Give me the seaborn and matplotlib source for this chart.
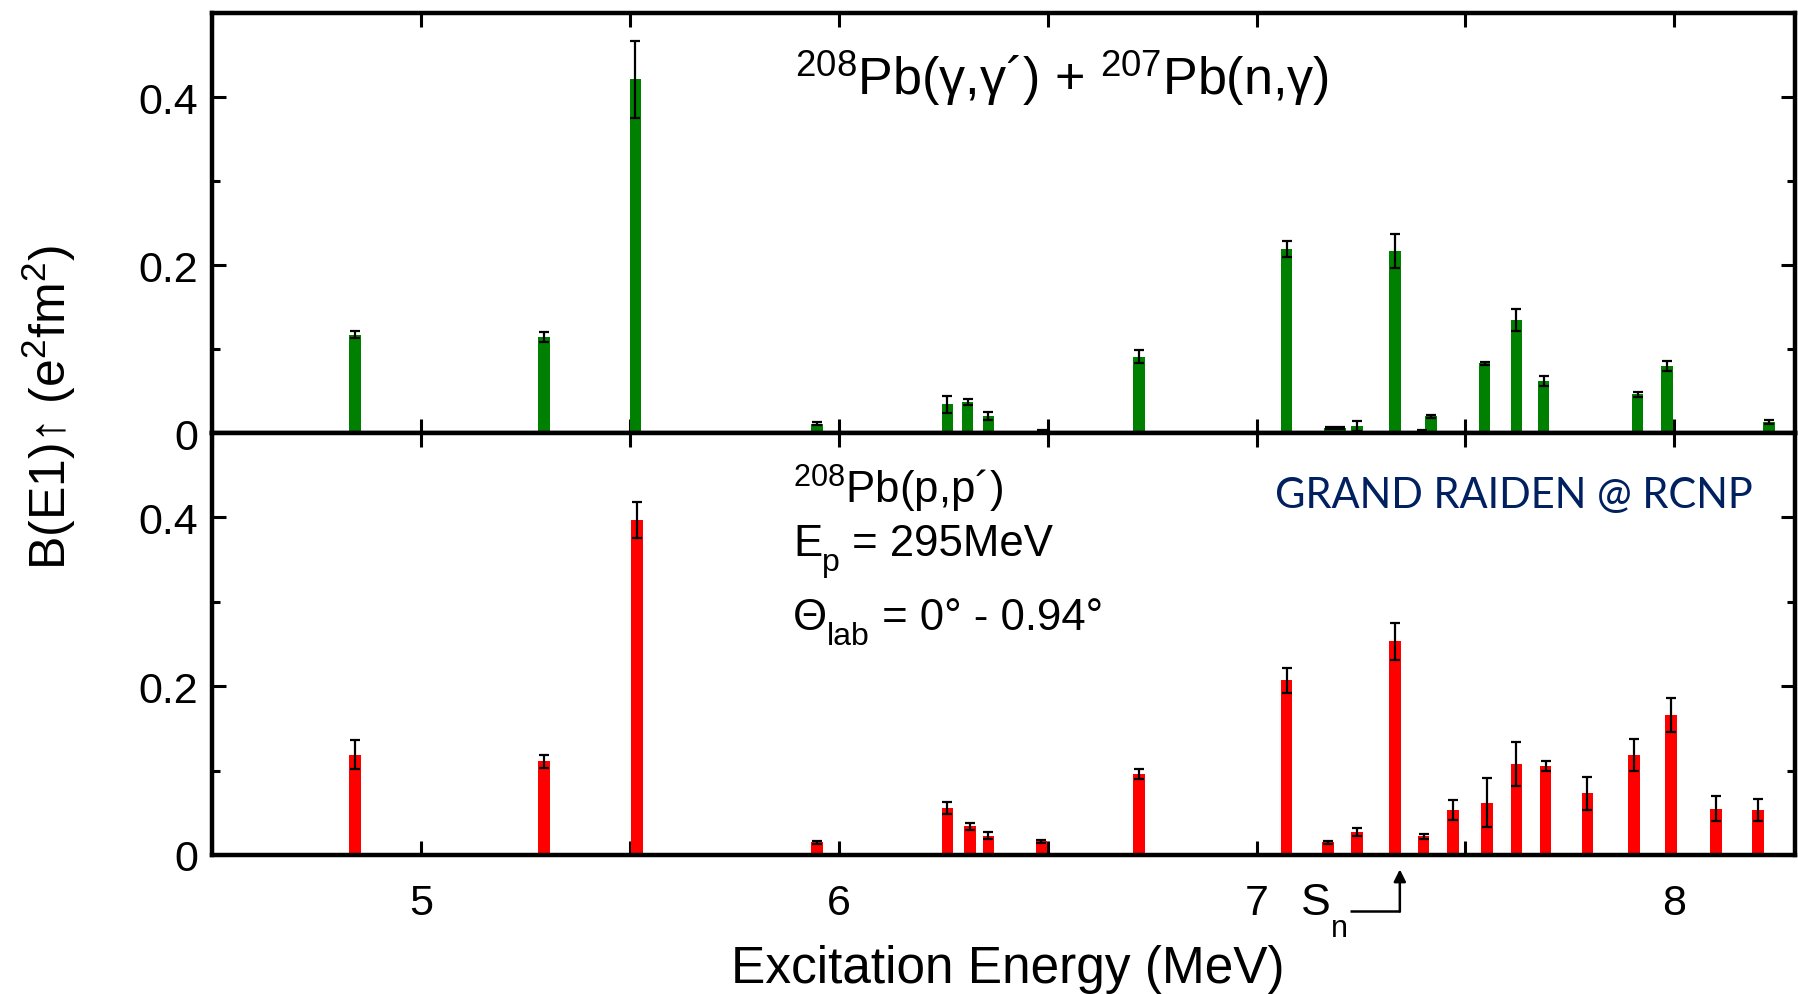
import numpy as np
import pandas as pd
import matplotlib
matplotlib.use("Agg")
import matplotlib.pyplot as plt
import seaborn as sns
from matplotlib.ticker import MultipleLocator, FixedLocator, FixedFormatter
from matplotlib.transforms import ScaledTranslation

# ---------------- data ----------------
# upper panel: 208Pb(g,g') + 207Pb(n,g)
E_up = [4.842, 5.294, 5.513, 5.947, 6.260, 6.308, 6.358, 6.487, 6.718, 7.072,
        7.176, 7.200, 7.240, 7.331, 7.395, 7.417, 7.546, 7.622, 7.687, 7.912,
        7.983, 8.227]
B_up = [0.117, 0.114, 0.421, 0.011, 0.034, 0.037, 0.020, 0.002, 0.091, 0.219,
        0.006, 0.006, 0.008, 0.217, 0.002, 0.020, 0.083, 0.135, 0.062, 0.046,
        0.080, 0.013]
err_up = [0.004, 0.006, 0.046, 0.002, 0.010, 0.004, 0.005, 0.001, 0.008, 0.010,
          0.001, 0.001, 0.006, 0.020, 0.001, 0.002, 0.002, 0.013, 0.006, 0.003,
          0.006, 0.002]

# lower panel: 208Pb(p,p')
E_lo = [4.842, 5.294, 5.516, 5.947, 6.260, 6.314, 6.358, 6.485, 6.718, 7.072,
        7.171, 7.240, 7.331, 7.400, 7.471, 7.551, 7.622, 7.692, 7.792, 7.903,
        7.992, 8.100, 8.200]
B_lo = [0.119, 0.111, 0.397, 0.015, 0.056, 0.034, 0.023, 0.016, 0.096, 0.207,
        0.015, 0.027, 0.253, 0.022, 0.053, 0.062, 0.108, 0.105, 0.073, 0.119,
        0.166, 0.055, 0.053]
err_lo = [0.017, 0.008, 0.021, 0.002, 0.007, 0.004, 0.004, 0.002, 0.006, 0.015,
          0.002, 0.005, 0.022, 0.003, 0.012, 0.029, 0.026, 0.006, 0.020, 0.019,
          0.020, 0.015, 0.013]

x_ticks = [5, 6, 7, 8]
y_ticks = [0, 0.2, 0.4]
y_tick_labels = ["0", "0.2", "0.4"]

# ---------------- style ----------------
sns.set_theme(style="ticks")
plt.rcParams['font.family'] = ['Liberation Sans', 'DejaVu Sans']
plt.rcParams['mathtext.fontset'] = 'custom'
plt.rcParams['mathtext.rm'] = 'Liberation Sans'
plt.rcParams['mathtext.it'] = 'Liberation Sans:italic'
plt.rcParams['mathtext.bf'] = 'Liberation Sans:bold'
for k in ('text.color', 'axes.labelcolor', 'xtick.color', 'ytick.color',
          'axes.edgecolor'):
    plt.rcParams[k] = 'black'

BAR_W = 0.028
GREEN = "#008000"
RED = "#ff0000"
NAVY = "#002060"

fig = plt.figure(figsize=(17.99, 9.95), dpi=100)
L, R = 0.118, 0.998
Y0, YM, Y1 = 0.1397, 0.5638, 0.9859
ax_up = fig.add_axes([L, YM, R - L, Y1 - YM])
ax_lo = fig.add_axes([L, Y0, R - L, YM - Y0])


def draw(ax, E, B, err, color):
    df = pd.DataFrame({"E": E, "B": B})
    nw = np.diff(np.unique(df["E"].values)).min()
    sns.barplot(data=df, x="E", y="B", native_scale=True, width=BAR_W / nw,
                color=color, saturation=1, errorbar=None, linewidth=0, ax=ax)
    ax.errorbar(df["E"], df["B"], yerr=err, fmt='none', ecolor='black',
                elinewidth=1.6, capsize=3.5, capthick=1.6, zorder=3)


draw(ax_up, E_up, B_up, err_up, GREEN)
draw(ax_lo, E_lo, B_lo, err_lo, RED)

for ax in (ax_up, ax_lo):
    ax.set_xlim(4.5, 8.29)
    ax.set_ylim(0, 0.5)
    ax.set_xlabel("")
    ax.set_ylabel("")
    ax.xaxis.set_major_locator(FixedLocator(x_ticks))
    ax.xaxis.set_minor_locator(MultipleLocator(0.5))
    ax.yaxis.set_major_locator(FixedLocator(y_ticks))
    ax.yaxis.set_major_formatter(FixedFormatter(y_tick_labels))
    ax.yaxis.set_minor_locator(MultipleLocator(0.1))
    ax.tick_params(which='both', direction='in', top=True, right=True,
                   width=2.2, color='black', labelsize=31, labelcolor='black')
    ax.tick_params(which='major', length=10)
    ax.tick_params(axis='x', which='minor', length=10)
    ax.tick_params(axis='y', which='minor', length=6)
    ax.tick_params(axis='y', pad=10)
    ax.tick_params(axis='x', pad=20)
    for s in ax.spines.values():
        s.set_visible(True)
        s.set_linewidth(3.2)
        s.set_color('black')
    ax.set_facecolor('white')

ax_up.tick_params(labelbottom=False)

renderer = fig.canvas.get_renderer()


def seq_text(ax, x, y, pieces):
    """Draw text pieces left to right; each piece = (text, fontsize, dy_pt)."""
    dx = 0.0
    for s, fs, dy in pieces:
        tr = ax.transData + ScaledTranslation(dx / 72, dy / 72, fig.dpi_scale_trans)
        t = ax.text(x, y, s, fontsize=fs, ha='left', va='baseline',
                    transform=tr, clip_on=False, color='black')
        bb = t.get_window_extent(renderer)
        dx += bb.width * 72 / fig.dpi


# ---------------- annotations ----------------
ax_up.text(5.896, 0.404, r'$^{208}$Pb(γ,γ´) + $^{207}$Pb(n,γ)',
           fontsize=37.5, ha='left', va='baseline')

ax_lo.text(5.89, 0.418, r'$^{208}$Pb(p,p´)', fontsize=31.5, ha='left', va='baseline')
seq_text(ax_lo, 5.89, 0.356, [('E', 31.5, 0), ('p', 23, -11), (' = 295MeV', 31.5, 0)])
seq_text(ax_lo, 5.89, 0.268, [('Θ', 31.5, 0), ('lab', 23, -11), (' = 0° - 0.94°', 31.5, 0)])

ax_lo.text(7.044, 0.412, 'GRAND RAIDEN @ RCNP', fontsize=30, color=NAVY,
           family=['Lato', 'DejaVu Sans'], ha='left', va='baseline')

# S_n marker
seq_text(ax_lo, 7.106, -0.070, [('S', 32, 0), ('n', 22, -16)])
ax_lo.plot([7.223, 7.343], [-0.066, -0.066], color='black', lw=1.8,
           clip_on=False, solid_capstyle='butt')
ax_lo.annotate('', xy=(7.343, -0.017), xytext=(7.343, -0.067),
               arrowprops=dict(arrowstyle='-|>', color='black', lw=1.8,
                               mutation_scale=18, shrinkA=0, shrinkB=0),
               annotation_clip=False)

fig.text(0.560, 0.012, 'Excitation Energy (MeV)', fontsize=37, ha='center',
         va='baseline')
fig.text(0.027, 0.590, r'B(E1)↑ (e$^2$fm$^2$)', fontsize=36, rotation=90,
         ha='center', va='center')

fig.savefig("out.png", dpi=100, facecolor='white')
